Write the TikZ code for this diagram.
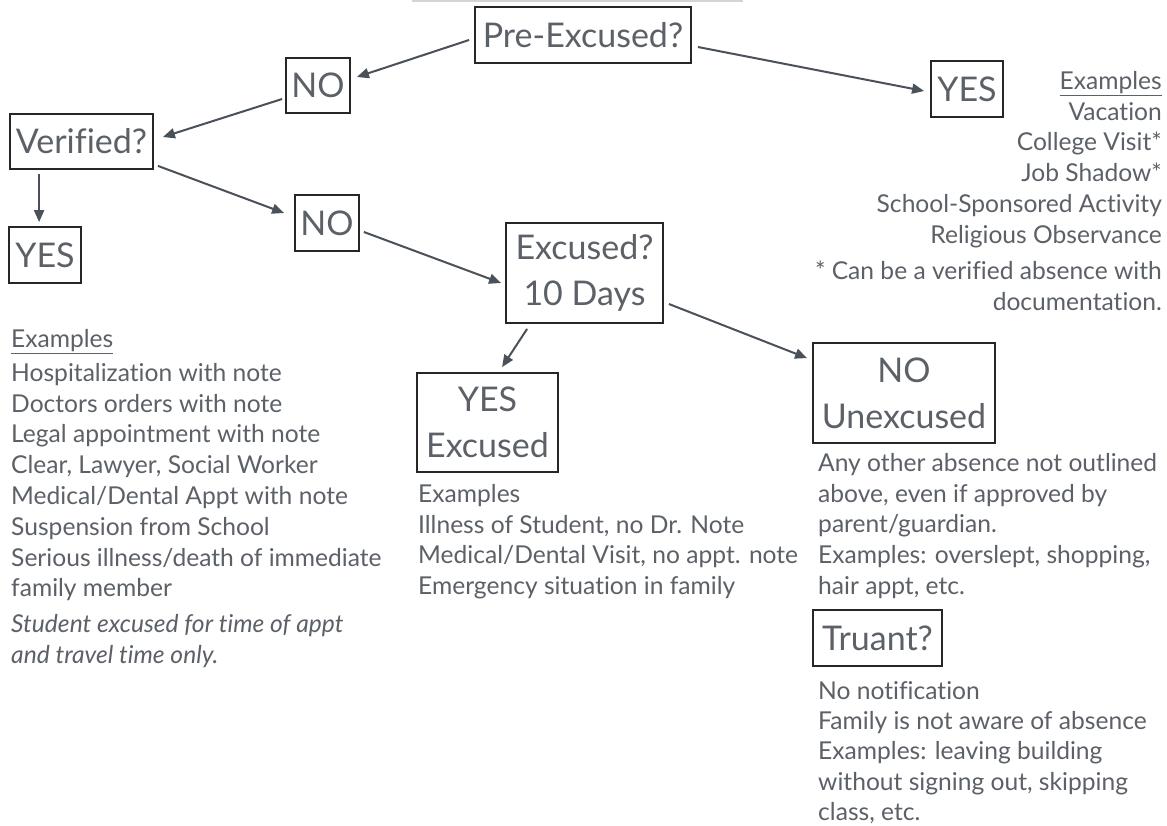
\documentclass[tikz,border=0pt]{standalone}
\usepackage{fontspec}
\setmainfont{Lato}[Ligatures=NoCommon]
\usetikzlibrary{arrows.meta,calc}
\definecolor{txt}{HTML}{5C6168}
\definecolor{boxc}{HTML}{262626}
\definecolor{arr}{HTML}{4B5159}
\definecolor{topline}{HTML}{D4D4D4}
\begin{document}
\begin{tikzpicture}[x=1pt,y=-1pt,
  box/.style={draw=boxc,line width=1.8pt,text=txt,font=\fontsize{34}{46}\selectfont,align=center,inner sep=0pt},
  body/.style={text=txt,font=\fontsize{24.6}{30.8}\selectfont,inner sep=0pt},
  conn/.style={draw=arr,line width=2pt,-{Triangle[length=12pt,width=10pt]}}]
\fill[white] (0,0) rectangle (1167,826);
\useasboundingbox (0,0) rectangle (1167,826);
\draw[topline,line width=1.5pt] (412,0.8) -- (743,0.8);

% boxes
\node[box,minimum width=216pt,minimum height=56pt] (pre) at (583,35) {Pre-Excused?};
\node[box,minimum width=64pt,minimum height=55pt] (no1) at (318,85.5) {NO};
\node[box,minimum width=143pt,minimum height=55pt] (ver) at (81.5,141.5) {Verified?};
\node[box,minimum width=72pt,minimum height=56pt] (yes1) at (45,255) {YES};
\node[box,minimum width=64pt,minimum height=56pt] (no2) at (327,223) {NO};
\node[box,minimum width=157pt,minimum height=100pt] (exc) at (584.5,273) {Excused?\\10 Days};
\node[box,minimum width=141pt,minimum height=99pt] (yesx) at (487.5,422.5) {YES\\Excused};
\node[box,minimum width=182pt,minimum height=100pt] (nou) at (904,393) {NO\\Unexcused};
\node[box,minimum width=129pt,minimum height=56pt] (tru) at (877.5,638) {Truant?};
\node[box,minimum width=72pt,minimum height=56pt] (yes2) at (967,89) {YES};

% connectors
\draw[conn] ($(pre.west)+(-5,5)$) -- ($(no1.east)+(6,-8.5)$);
\draw[conn] ($(no1.west)+(-3,13.5)$) -- ($(ver.east)+(9,-4.5)$);
\draw[conn] ($(ver.south west)+(30,4)$) -- ($(yes1.north west)+(31,-4)$);
\draw[conn] ($(ver.south east)+(4,-4)$) -- ($(no2.west)+(-10,-10)$);
\draw[conn] ($(no2.east)+(4,9)$) -- ($(exc.west)+(-4,10)$);
\draw[conn] ($(exc.south west)+(22,5)$) -- ($(yesx.north west)+(86,-5)$);
\draw[conn] ($(exc.east)+(5,31)$) -- ($(nou.north west)+(-5,16)$);
\draw[conn] ($(pre.east)+(6,12)$) -- ($(yes2.west)+(-6,2)$);

% texts
\node[body,anchor=north east,align=right] (rtxt) at (1162,71)
  {\underline{Examples}\\Vacation\\College Visit*\\Job Shadow*\\School-Sponsored Activity\\Religious Observance};
\node[body,anchor=north east,align=right] (rnote) at (1162,261)
  {* Can be a verified absence with\\documentation.};
\node[body,anchor=north west,align=left] (lex) at (11,329) {\underline{Examples}};
\node[body,anchor=north west,align=left] (ltxt) at (11,363)
  {Hospitalization with note\\Doctors orders with note\\Legal appointment with note\\Clear, Lawyer, Social Worker\\Medical/Dental Appt with note\\Suspension from School\\Serious illness/death of immediate\\family member};
\node[body,anchor=north west,align=left] (lit) at (11,614)
  {\itshape Student excused for time of appt\\\itshape and travel time only.};
\node[body,anchor=north west,align=left] (mtxt) at (418,484)
  {Examples\\Illness of Student, no Dr. Note\\Medical/Dental Visit, no appt. note\\Emergency situation in family};
\node[body,anchor=north west,align=left] (ntxt) at (818,453)
  {Any other absence not outlined\\above, even if approved by\\parent/guardian.\\Examples: overslept, shopping,\\hair appt, etc.};
\node[body,anchor=north west,align=left,font=\fontsize{24.6}{30.4}\selectfont] (ttxt) at (818,681)
  {No notification\\Family is not aware of absence\\Examples: leaving building\\without signing out, skipping\\class, etc.};
\end{tikzpicture}
\end{document}
